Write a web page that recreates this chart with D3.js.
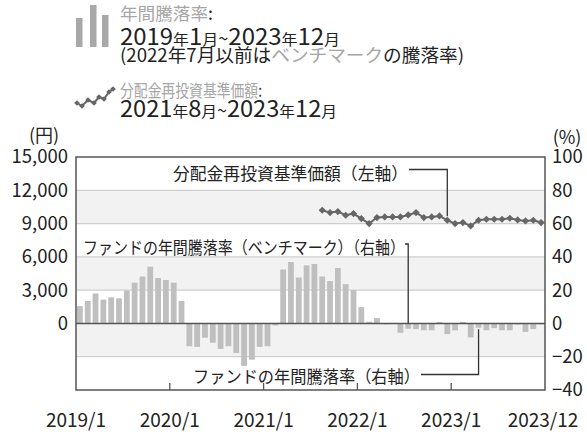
<!DOCTYPE html>
<html>
<head>
<meta charset="utf-8">
<script src="https://cdn.jsdelivr.net/npm/d3@7"></script>
<style>
  body { margin: 0; background: #fff; }
  svg { font-family: "Noto Sans CJK JP", "Noto Sans", sans-serif; }
</style>
</head>
<body>
<svg id="chart" width="587" height="432"></svg>
<script>
// months 2019/1 .. 2023/12
const months = [];
for (let y = 2019; y <= 2023; y++) for (let m = 1; m <= 12; m++) months.push(y + "/" + m);

// annual return (%) - benchmark until 2022/7, fund after
const returns = [
  10.4, 13.5, 18, 14.3, 15.7, 15.1, 19.8, 24.5, 28.2, 34.1, 27.3, 26.1,
  24.5, 13.5, -13.7, -14.1, -8.6, -11.6, -15.3, -13.7, -17.8, -25.5, -21.8, -14.1,
  -13.7, -1.2, 32.4, 36.9, 27.6, 34.9, 35.7, 28.2, 25.5, 33.3, 23.6, 20,
  9.8, 1, 3.2, -0.5, 0, -5.6, -3.2, -3.4, -4.1, -4.1, 0.8, -6.4,
  -4.2, 0.9, -8.4, -2.6, -4.1, -2.8, -4.1, -4.1, -0.7, -5.1, -3.4, -0.5
];

// NAV (dividends reinvested), 2021/8 .. 2023/12
const navStart = "2021/8";
const nav = [
  10200, 9990, 10080, 9750, 9900, 9450, 9000, 9540, 9600, 9600, 9600, 9780,
  9990, 9540, 9600, 9690, 9300, 9000, 9090, 8790, 9300, 9390, 9390, 9390,
  9480, 9330, 9240, 9300, 9090
];

const leftTicks = [0, 3000, 6000, 9000, 12000, 15000];
const rightTicks = [-40, -20, 0, 20, 40, 60, 80, 100];
const bands = [[60, 80], [20, 40], [-20, 0]];
const yearTicks = ["2020/1", "2021/1", "2022/1", "2023/1"];
const xLabels = ["2019/1", "2020/1", "2021/1", "2022/1", "2023/1"];

const svg = d3.select("#chart");
const L = 76, R = 545, T = 157, B = 390;
const dark = "#555", barColor = "#bfbfbf", lineColor = "#666", grey = "#a6a6a6", ink = "#222";

const x = d3.scaleBand().domain(months).range([L, R]).paddingInner(0.26).paddingOuter(0.13);
const step = x.step();
const xStart = m => L + months.indexOf(m) * step;
const xMid = m => xStart(m) + step / 2;
const yR = d3.scaleLinear().domain([-40, 100]).range([B, T]);
const yL = d3.scaleLinear().domain([-6000, 15000]).range([B, T]);

// background bands
svg.append("g").selectAll("rect").data(bands).join("rect")
  .attr("x", L).attr("width", R - L)
  .attr("y", d => yR(d[1])).attr("height", d => yR(d[0]) - yR(d[1]))
  .attr("fill", "#f2f2f2");

// gridlines
svg.append("g").selectAll("line").data(rightTicks.filter(d => d > -40 && d < 100 && d !== 0)).join("line")
  .attr("x1", L).attr("x2", R).attr("y1", d => yR(d)).attr("y2", d => yR(d))
  .attr("stroke", "#cfcfcf").attr("stroke-width", 1.2);

// bars
svg.append("g").selectAll("rect").data(returns).join("rect")
  .attr("x", (d, i) => x(months[i]))
  .attr("width", x.bandwidth())
  .attr("y", d => yR(Math.max(0, d)))
  .attr("height", d => Math.abs(yR(d) - yR(0)))
  .attr("fill", barColor);

// zero line
svg.append("line").attr("x1", L).attr("x2", R).attr("y1", yR(0)).attr("y2", yR(0))
  .attr("stroke", dark).attr("stroke-width", 1.6);

// frame
svg.append("rect").attr("x", L).attr("y", T).attr("width", R - L).attr("height", B - T)
  .attr("fill", "none").attr("stroke", dark).attr("stroke-width", 1.5);

// small year ticks on the bottom
svg.append("g").selectAll("line").data(yearTicks).join("line")
  .attr("x1", d => xStart(d)).attr("x2", d => xStart(d))
  .attr("y1", B).attr("y2", B - 7)
  .attr("stroke", dark).attr("stroke-width", 1.3);

// NAV line
const navIdx = months.indexOf(navStart);
const navPts = nav.map((v, i) => ({ m: months[navIdx + i], v }));
svg.append("path").datum(navPts)
  .attr("d", d3.line().x(d => xMid(d.m)).y(d => yL(d.v)))
  .attr("fill", "none").attr("stroke", lineColor).attr("stroke-width", 2);
const diamond = r => `M0,${-r}L${r},0L0,${r}L${-r},0Z`;
svg.append("g").selectAll("path").data(navPts).join("path")
  .attr("d", diamond(3.6))
  .attr("transform", d => `translate(${xMid(d.m)},${yL(d.v)})`)
  .attr("fill", lineColor);

// axes text
const leftAxis = d3.axisLeft(yL).tickValues(leftTicks).tickSize(0).tickPadding(8).tickFormat(d3.format(","));
const gl = svg.append("g").attr("transform", `translate(${L},0)`).call(leftAxis);
const rightAxis = d3.axisRight(yR).tickValues(rightTicks).tickSize(0).tickPadding(7);
const gr = svg.append("g").attr("transform", `translate(${R},0)`).call(rightAxis);
[gl, gr].forEach(g => {
  g.select(".domain").remove();
  g.selectAll("text").attr("font-size", 18.5).attr("fill", ink)
    .attr("font-family", '"Noto Sans CJK JP", sans-serif');
});

svg.append("text").attr("x", 44).attr("y", 134).attr("text-anchor", "middle")
  .attr("dominant-baseline", "central").attr("font-size", 18).attr("fill", ink).text("(円)");
svg.append("text").attr("x", 567).attr("y", 136).attr("text-anchor", "middle")
  .attr("dominant-baseline", "central").attr("font-size", 18).attr("fill", ink).text("(%)");

// x labels
svg.append("g").selectAll("text").data(xLabels).join("text")
  .attr("x", d => xStart(d)).attr("y", 418)
  .attr("text-anchor", "middle").attr("dominant-baseline", "central")
  .attr("font-size", 19).attr("fill", ink).text(d => d);
svg.append("text").attr("x", R - 2).attr("y", 418)
  .attr("text-anchor", "middle").attr("dominant-baseline", "central")
  .attr("font-size", 19).attr("fill", ink).text("2023/12");

// annotations
function callout(label, tx, ty, w, pts) {
  svg.append("text").attr("x", tx).attr("y", ty).attr("dominant-baseline", "central")
    .attr("font-size", 17).attr("fill", ink)
    .attr("textLength", w).attr("lengthAdjust", "spacingAndGlyphs").text(label);
  svg.append("path").attr("d", d3.line()(pts))
    .attr("fill", "none").attr("stroke", "#333").attr("stroke-width", 1.3);
}
const mNav = "2022/12", mBench = "2022/7", mFund = "2023/4";
callout("分配金再投資基準価額（左軸）", 173, 172, 235,
  [[409, 169.5], [xMid(mNav), 169.5], [xMid(mNav), yL(nav[months.indexOf(mNav) - navIdx]) - 4]]);
callout("ファンドの年間騰落率（ベンチマーク）（右軸）", 83, 246, 322,
  [[405, 244], [xMid(mBench), 244], [xMid(mBench), yR(0)]]);
callout("ファンドの年間騰落率（右軸）", 193, 375, 227,
  [[421, 374.5], [xMid(mFund), 374.5], [xMid(mFund), yR(returns[months.indexOf(mFund)]) + 1.5]]);

// legend
const lg = svg.append("g");
[[76, 18], [90, 5], [102, 15]].forEach(([bx, by]) =>
  lg.append("rect").attr("x", bx).attr("y", by).attr("width", 6.5).attr("height", 47 - by).attr("fill", "#a8a8a8"));

function richText(xp, yp, w, parts) {
  const t = lg.append("text").attr("x", xp).attr("y", yp).attr("fill", ink)
    .attr("textLength", w).attr("lengthAdjust", "spacingAndGlyphs");
  parts.forEach(([s, size, col]) => t.append("tspan").attr("font-size", size).attr("fill", col || ink).text(s));
}
richText(120, 19.5, 93, [["年間騰落率", 17.5, grey], [":", 17.5]]);
richText(120, 45, 220, [["2019", 22.5], ["年", 15], ["1", 22.5], ["月", 15], ["~", 17], ["2023", 22.5], ["年", 15], ["12", 22.5], ["月", 15]]);
richText(120, 62, 344, [["(2022年7月以前は", 18], ["ベンチマーク", 18, grey], ["の騰落率)", 18]]);
richText(120, 97, 142, [["分配金再投資基準価額", 17, grey], [":", 17]]);
richText(120, 117, 217, [["2021", 22.5], ["年", 15], ["8", 22.5], ["月", 15], ["~", 17], ["2023", 22.5], ["年", 15], ["12", 22.5], ["月", 15]]);

const iconPts = [[77, 103], [82, 106], [88, 100], [94, 103], [99, 97], [104, 99], [109, 92], [113, 89]];
lg.append("path").attr("d", d3.line()(iconPts)).attr("fill", "none").attr("stroke", lineColor).attr("stroke-width", 2);
lg.selectAll(".ic").data(iconPts).join("path").attr("class", "ic")
  .attr("d", diamond(2.8)).attr("transform", d => `translate(${d[0]},${d[1]})`).attr("fill", lineColor);
</script>
</body>
</html>
